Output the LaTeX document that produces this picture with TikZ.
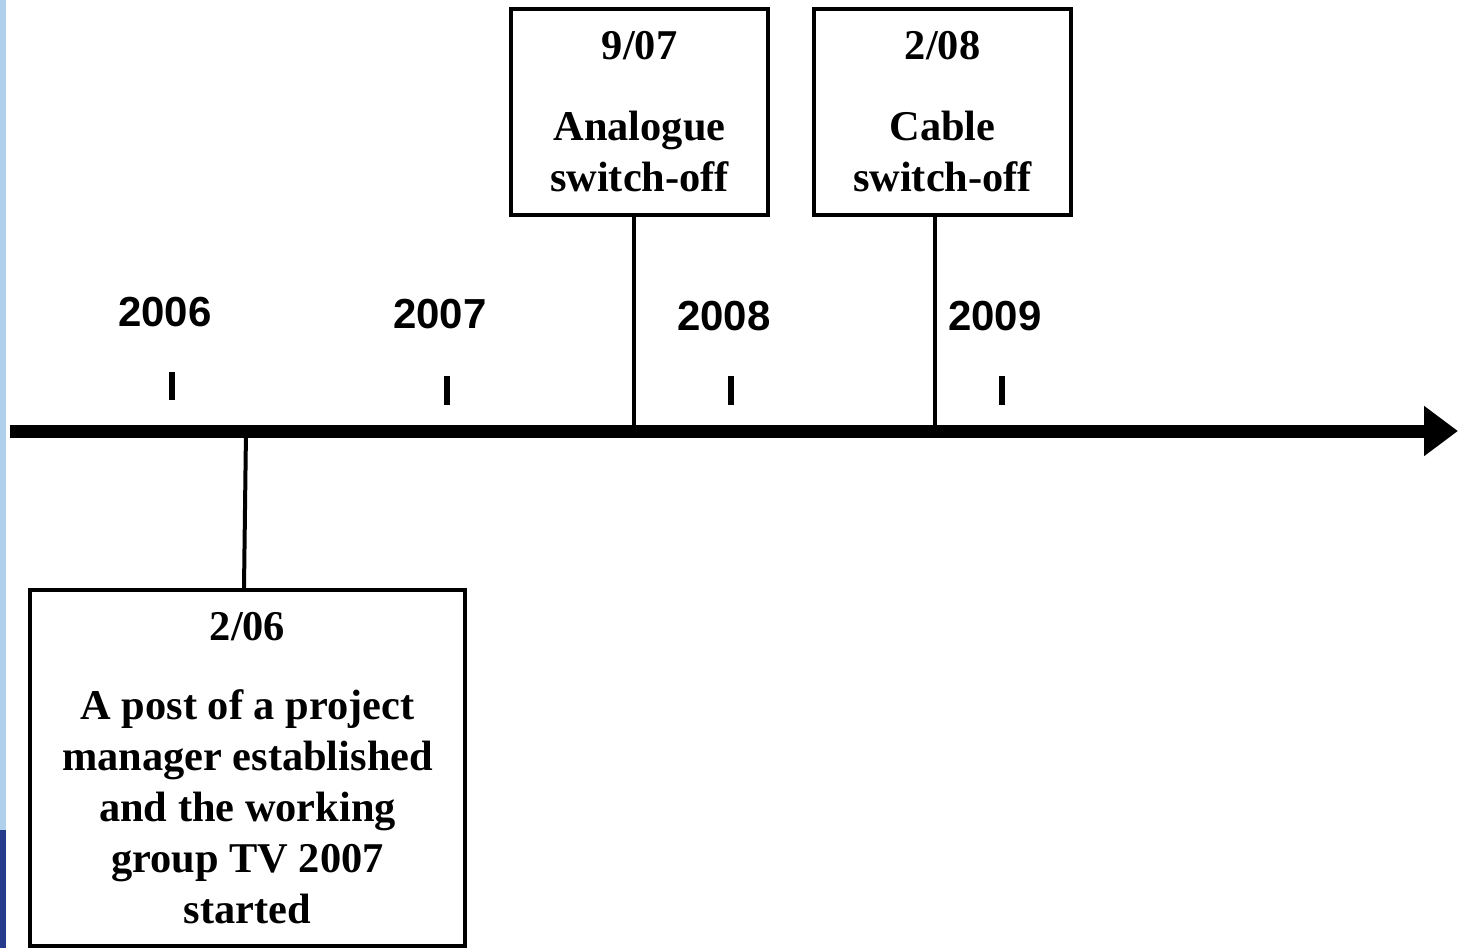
\documentclass[tikz,border=0pt]{standalone}
\usepackage{fontspec}
\setmainfont{Liberation Serif}
\newfontfamily\yearfont{Liberation Sans}
\usetikzlibrary{arrows.meta,positioning}
\definecolor{slidesky}{RGB}{175,208,236}
\definecolor{slidedeep}{RGB}{38,58,140}
\tikzset{
  wire/.style={line width=2pt},
  axisline/.style={line width=6.5pt, -{Triangle[length=17pt,width=24pt]}},
  tickmark/.style={line width=3.3pt},
  event/.style={draw, line width=2pt, fill=white, align=center, inner sep=0pt,
                font=\fontsize{21.2}{25.5}\selectfont\bfseries},
  year/.style={font=\fontsize{21}{25}\selectfont\yearfont\bfseries, inner sep=0pt}
}
\begin{document}
\begin{tikzpicture}[x=0.5pt,y=-0.5pt]
  \useasboundingbox (0,0) rectangle (1458,948);
  % slide background showing at the left edge
  \fill[slidesky] (0,0) rectangle (6,830);
  \fill[slidedeep] (0,830) rectangle (6,948);
  % time axis
  \coordinate (axl) at (10,431);
  \coordinate (axr) at (1458,431);
  \draw[axisline] (axl) -- (axr);
  % years and ticks
  \node[year] (y2006) at (165,312) {2006};
  \node[year] (y2007) at (440,314) {2007};
  \node[year] (y2008) at (724,316) {2008};
  \node[year] (y2009) at (995,316) {2009};
  \foreach \x/\ya/\yb in {172/372/400, 447/376/405, 731/376/405, 1002/376/405}
    \draw[tickmark] (\x,\ya) -- (\x,\yb);
  % events
  \node[event, minimum width=128.5pt, minimum height=103pt] (e907) at (639.5,112)
    {9/07\\[15pt]Analogue\\switch-off};
  \node[event, minimum width=128.5pt, minimum height=103pt] (e208) at (942.5,112)
    {2/08\\[15pt]Cable\\switch-off};
  \node[event, minimum width=217.5pt, minimum height=178pt] (e206) at (247.5,768)
    {2/06\\[14pt]A post of a project\\manager established\\and the working\\group TV 2007\\started};
  \coordinate (t907) at (634,431);
  \coordinate (t208) at (935,431);
  \coordinate (t206) at (246,431);
  \draw[wire] (t907 |- e907.south) -- (t907);
  \draw[wire] (t208 |- e208.south) -- (t208);
  \draw[wire] (t206) -- ([xshift=-1.75pt]e206.north);
\end{tikzpicture}
\end{document}
